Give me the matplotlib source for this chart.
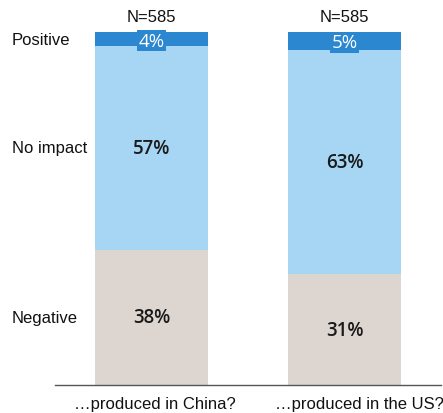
import matplotlib
matplotlib.use("Agg")
import matplotlib.pyplot as plt
import matplotlib.transforms as mtransforms

# Survey responses: impact of buying products made in each country
groups = ["\u2026produced in China?", "\u2026produced in the US?"]
segments = ["Negative", "No impact", "Positive"]
negative = [38, 31]
no_impact = [57, 63]
positive = [4, 5]
sample_sizes = [585, 585]

colors = {"Negative": "#ddd5d0", "No impact": "#a6d6f4", "Positive": "#2a87d0"}
text_colors = {"Negative": "#1a1a1a", "No impact": "#1a1a1a", "Positive": "white"}

fig = plt.figure(figsize=(4.43, 4.14), dpi=100)
ax = fig.add_axes([55 / 443, 1 - 386 / 414, 386 / 443, (386 - 33) / 414])

centers = [0.5, 1.5]
width = 0.585
series = {"Negative": negative, "No impact": no_impact, "Positive": positive}

bottoms = [0, 0]
for seg in segments:
    vals = series[seg]
    ax.bar(centers, vals, width=width, bottom=bottoms, color=colors[seg],
           edgecolor="none", zorder=2)
    for i, (c, v, b) in enumerate(zip(centers, vals, bottoms)):
        if seg == "Positive":
            ax.text(c, b + v / 2 - 0.4, f"{v}%", ha="center", va="center",
                    fontsize=13.5, family="Open Sans", color=text_colors[seg],
                    zorder=4,
                    bbox=dict(boxstyle="square,pad=0.08", fc=colors[seg], ec="none"))
        else:
            ax.text(c, b + v / 2, f"{v}%", ha="center", va="center",
                    fontsize=13.5, family="Open Sans", fontweight="semibold",
                    color=text_colors[seg], zorder=4)
    bottoms = [b + v for b, v in zip(bottoms, vals)]

# Sample size above each bar
for c, top, n in zip(centers, bottoms, sample_sizes):
    ax.text(c, top + 2.2, f"N={n}", ha="center", va="bottom",
            fontsize=12, family="Liberation Sans", color="#111111")

# Row labels aligned with the first bar's segments
trans = mtransforms.blended_transform_factory(fig.transFigure, ax.transData)
b = 0
for seg in segments:
    v = series[seg][0]
    ax.text(12 / 443, b + v / 2, seg, transform=trans, ha="left", va="center",
            fontsize=12, family="Liberation Sans", color="#111111")
    b += v

ax.set_xlim(0, 2)
ax.set_ylim(0, 99)
ax.set_xticks([0.515, 1.575])
ax.set_xticklabels(groups, fontsize=12, family="Liberation Sans", color="#111111")
ax.tick_params(axis="x", length=0, pad=8)
ax.set_yticks([])
for side in ["top", "right", "left"]:
    ax.spines[side].set_visible(False)
ax.spines["bottom"].set_color("#555555")
ax.spines["bottom"].set_linewidth(1.0)
ax.spines["bottom"].set_zorder(5)

fig.savefig("out.png", dpi=100)
